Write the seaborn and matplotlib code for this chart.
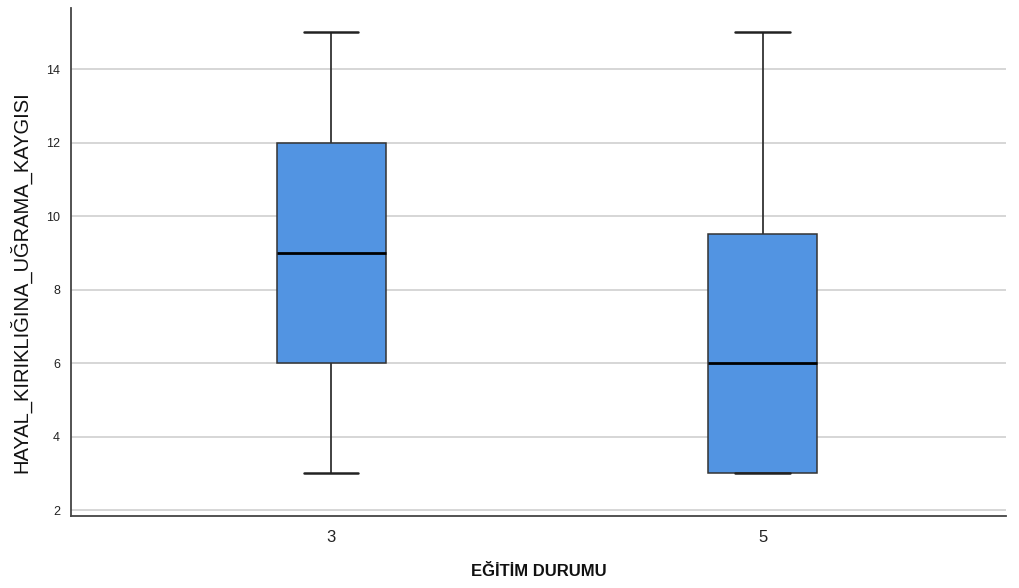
import matplotlib
matplotlib.use("Agg")
import matplotlib.pyplot as plt
import seaborn as sns
import pandas as pd

# Data (values chosen so quartiles/whiskers match the reference boxes)
group_3 = [3, 6, 9, 12, 15]
group_5 = [3, 3, 6, 9.5, 15]
categories = ["3", "5"]
y_ticks = [2, 4, 6, 8, 10, 12, 14]

df = pd.DataFrame({
    "EĞİTİM DURUMU": [categories[0]] * len(group_3) + [categories[1]] * len(group_5),
    "HAYAL_KIRIKLIĞINA_UĞRAMA_KAYGISI": group_3 + group_5,
})

sns.set_style("white")
plt.rcParams["font.family"] = ["Liberation Sans", "DejaVu Sans"]

fig = plt.figure(figsize=(10.19, 5.88), dpi=100)
ax = fig.add_axes([71 / 1019, 1 - 516 / 588, (1006 - 71) / 1019, (516 - 8) / 588])

for t in y_ticks:
    ax.axhline(t, color="#d0d0d0", lw=1.2, zorder=0)

sns.boxplot(
    data=df, x="EĞİTİM DURUMU", y="HAYAL_KIRIKLIĞINA_UĞRAMA_KAYGISI",
    order=categories, color="#5294e2", saturation=1, width=0.253,
    linecolor="#333333", linewidth=1.1, whis=1.5, ax=ax,
    medianprops=dict(color="black", lw=2),
    whiskerprops=dict(color="#333333", lw=1.3),
    capprops=dict(color="#222222", lw=1.8),
    boxprops=dict(edgecolor="#333333", lw=1.1),
    showfliers=False, zorder=2,
)

ax.set_xlim(-0.603, 1.564)
ax.set_ylim(1.84, 15.66)
ax.set_yticks(y_ticks)
ax.tick_params(axis="y", labelsize=9, length=0, pad=8, colors="#222222")
ax.tick_params(axis="x", labelsize=12, length=0, pad=10, colors="#222222")
for s in ["top", "right"]:
    ax.spines[s].set_visible(False)
for s in ["left", "bottom"]:
    ax.spines[s].set_color("#444444")
    ax.spines[s].set_linewidth(1.3)

ax.set_xlabel("EĞİTİM DURUMU", fontsize=12, fontweight="bold", labelpad=14, color="#111111")
ax.set_ylabel("HAYAL_KIRIKLIĞINA_UĞRAMA_KAYGISI", fontsize=14.5, color="#111111",
              va="center")
ax.yaxis.set_label_coords(-0.0545, 0.46)

fig.savefig("out.png", dpi=100)
